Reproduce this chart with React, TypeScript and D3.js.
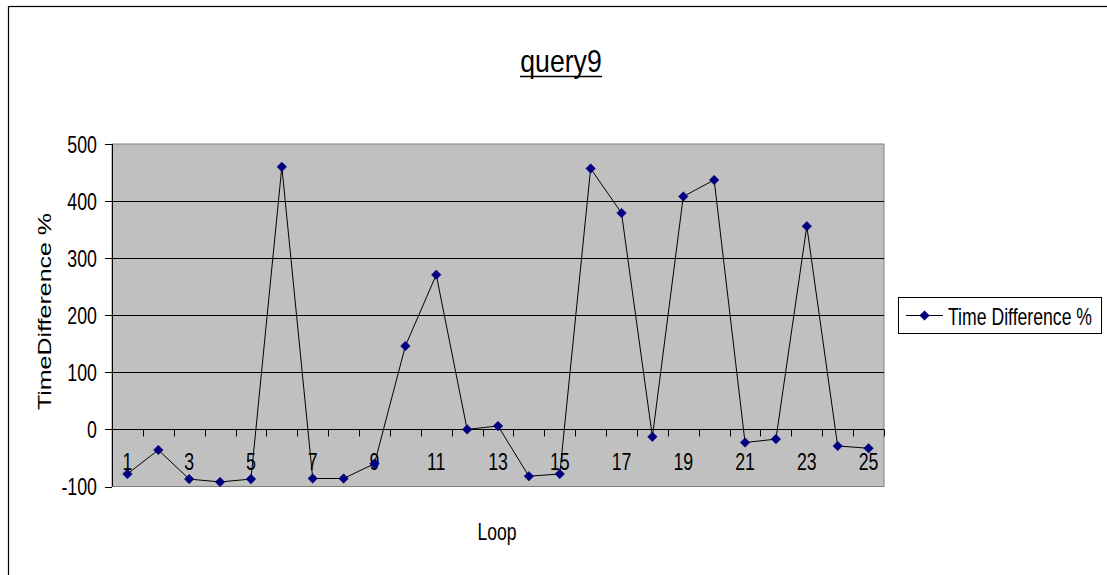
import React from "react";
import * as d3 from "d3";

// Loop index and the measured time difference (%) for query9
const loops: number[] = [1, 2, 3, 4, 5, 6, 7, 8, 9, 10, 11, 12, 13, 14, 15, 16, 17, 18, 19, 20, 21, 22, 23, 24, 25];
const timeDiff: number[] = [-78, -36, -87, -92, -87, 460, -86, -86, -60, 146, 271, 0, 6, -82, -78, 457, 379, -13, 408, 437, -23, -17, 356, -29, -33];
const yTicks: number[] = [-100, 0, 100, 200, 300, 400, 500];
const xTickLabels: number[] = [1, 3, 5, 7, 9, 11, 13, 15, 17, 19, 21, 23, 25];

const chartTitle = "query9";
const yTitle = "TimeDifference %";
const xTitle = "Loop";
const seriesName = "Time Difference %";

const FONT = "'Liberation Sans', Arial, sans-serif";

const W = 1107;
const H = 575;
const plot = { left: 112, right: 884, top: 144, bottom: 486.5 };

function SText(props: {
  x: number;
  y: number;
  size: number;
  sx: number;
  anchor?: "start" | "middle" | "end";
  children: React.ReactNode;
  decoration?: string;
}) {
  const { x, y, size, sx, anchor = "start", children, decoration } = props;
  return (
    <text
      transform={`translate(${x},${y}) scale(${sx},1)`}
      fontFamily={FONT}
      fontSize={size}
      textAnchor={anchor}
      fill="#000"
      textDecoration={decoration}
    >
      {children}
    </text>
  );
}

function diamond(cx: number, cy: number, r: number) {
  return `M${cx},${cy - r}L${cx + r},${cy}L${cx},${cy + r}L${cx - r},${cy}Z`;
}

export default function App() {
  const x = d3
    .scaleBand<number>()
    .domain(loops)
    .range([plot.left, plot.right])
    .paddingInner(0)
    .paddingOuter(0);
  const bw = x.bandwidth();
  const cx = (d: number) => (x(d) as number) + bw / 2;

  const y = d3.scaleLinear().domain([-100, 500]).range([plot.bottom, plot.top]);
  const y0 = y(0);

  const line = d3
    .line<number>()
    .x((_, i) => cx(loops[i]))
    .y((d) => y(d));

  const boundaries = loops.map((d) => x(d) as number).concat([plot.right]);

  return (
    <svg
      width={W}
      height={H}
      style={{ position: "absolute", left: 0, top: 0, background: "#fff" }}
    >
      {/* chart frame */}
      <rect x={8.5} y={6.5} width={W + 20} height={H + 20} fill="#fff" stroke="#000" strokeWidth={1.2} />

      {/* title */}
      <SText x={561} y={72} size={31} sx={0.86} anchor="middle">
        {chartTitle}
      </SText>
      <line x1={520} x2={602} y1={76.5} y2={76.5} stroke="#000" strokeWidth={1.3} />

      {/* plot area */}
      <rect
        x={plot.left}
        y={plot.top}
        width={plot.right - plot.left}
        height={plot.bottom - plot.top}
        fill="#C0C0C0"
        stroke="#808080"
        strokeWidth={1}
      />

      {/* horizontal gridlines */}
      {yTicks
        .filter((t) => t > 0 && t < 500)
        .map((t) => (
          <line
            key={`g${t}`}
            x1={plot.left}
            x2={plot.right}
            y1={Math.round(y(t)) + 0.5}
            y2={Math.round(y(t)) + 0.5}
            stroke="#000"
            strokeWidth={1}
          />
        ))}

      {/* value axis */}
      <line x1={plot.left + 0.5} x2={plot.left + 0.5} y1={plot.top} y2={plot.bottom} stroke="#000" />
      {yTicks.map((t) => (
        <g key={`y${t}`}>
          <line
            x1={plot.left - 7}
            x2={plot.left}
            y1={Math.round(y(t)) + 0.5}
            y2={Math.round(y(t)) + 0.5}
            stroke="#000"
          />
          <SText x={97} y={y(t) + 8.7} size={24} sx={0.74} anchor="end">
            {t}
          </SText>
        </g>
      ))}

      {/* category axis crossing at zero */}
      <line x1={plot.left} x2={plot.right} y1={Math.round(y0) + 0.5} y2={Math.round(y0) + 0.5} stroke="#000" />
      {boundaries.map((b, i) => (
        <line
          key={`xt${i}`}
          x1={Math.round(b) + 0.5}
          x2={Math.round(b) + 0.5}
          y1={y0}
          y2={y0 + 7}
          stroke="#000"
        />
      ))}
      {xTickLabels.map((d) => (
        <SText key={`xl${d}`} x={cx(d)} y={470} size={24} sx={0.74} anchor="middle">
          {d}
        </SText>
      ))}

      {/* series */}
      <path d={line(timeDiff) || ""} fill="none" stroke="#000" strokeWidth={1} />
      {timeDiff.map((v, i) => (
        <path key={`m${i}`} d={diamond(cx(loops[i]), y(v), 4.8)} fill="#000080" stroke="#000080" strokeWidth={0.5} />
      ))}

      {/* axis titles */}
      <text
        transform="translate(51,311.5) rotate(-90) scale(1,0.735)"
        fontFamily={FONT}
        fontSize={25}
        textAnchor="middle"
        fill="#000"
      >
        {yTitle}
      </text>
      <SText x={497} y={540} size={24} sx={0.73} anchor="middle">
        {xTitle}
      </SText>

      {/* legend */}
      <rect x={898.5} y={297.5} width={203} height={36} fill="#fff" stroke="#000" strokeWidth={1} />
      <line x1={906} x2={943} y1={315.5} y2={315.5} stroke="#000" strokeWidth={1} />
      <path d={diamond(924.5, 315.5, 4.8)} fill="#000080" stroke="#000080" strokeWidth={0.5} />
      <SText x={948} y={325} size={24} sx={0.735}>
        {seriesName}
      </SText>
    </svg>
  );
}
